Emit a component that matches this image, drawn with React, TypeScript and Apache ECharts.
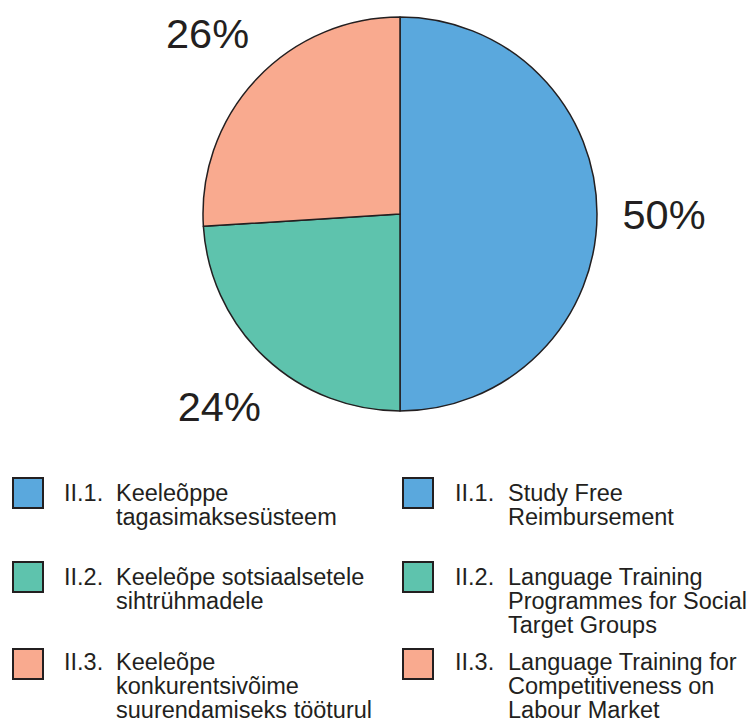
import React, { useEffect, useRef } from "react";
import * as echarts from "echarts";

const codes = ["II.1.", "II.2.", "II.3."];
const estonianLabels = [
  "Keeleõppe\ntagasimaksesüsteem",
  "Keeleõpe sotsiaalsetele\nsihtrühmadele",
  "Keeleõpe\nkonkurentsivõime\nsuurendamiseks tööturul",
];
const englishLabels = [
  "Study Free\nReimbursement",
  "Language Training\nProgrammes for Social\nTarget Groups",
  "Language Training for\nCompetitiveness on\nLabour Market",
];
const shares = [50, 24, 26];
const colors = ["#5aa8dd", "#5ec3ad", "#f9aa8f"];

const FONT = "'Liberation Sans', Arial, Helvetica, sans-serif";
const INK = "#231f20";
const H = 723;
const LH = 24;

export default function App() {
  const ref = useRef<HTMLDivElement>(null);
  useEffect(() => {
    if (!ref.current) return;
    const chart = echarts.init(ref.current, null, { renderer: "svg" });
    const rowTops = [478, 562, 649];
    const columns = [
      { boxX: 13, codeX: 64, textX: 116, labels: estonianLabels },
      { boxX: 403, codeX: 455, textX: 508, labels: englishLabels },
    ];
    const graphics: any[] = [];
    columns.forEach((col) => {
      codes.forEach((code, i) => {
        const top = rowTops[i];
        const lines = col.labels[i].split("\n").length;
        const textY = Math.min(top + 3, H - lines * LH - 1.5);
        graphics.push({
          type: "rect",
          shape: { x: col.boxX, y: top, width: 30, height: 30 },
          style: { fill: colors[i], stroke: INK, lineWidth: 2 },
          silent: true,
        });
        graphics.push({
          type: "text",
          x: col.codeX,
          y: textY,
          style: {
            text: code,
            fontSize: 23.5,
            fontFamily: FONT,
            fill: INK,
            lineHeight: LH,
            verticalAlign: "top",
          },
          silent: true,
        });
        graphics.push({
          type: "text",
          x: col.textX,
          y: textY,
          style: {
            text: col.labels[i],
            fontSize: 23.5,
            fontFamily: FONT,
            fill: INK,
            lineHeight: LH,
            verticalAlign: "top",
          },
          silent: true,
        });
      });
    });

    const data = shares.map((v, i) => ({
      name: estonianLabels[i],
      value: v,
      itemStyle: { color: colors[i] },
    }));

    chart.setOption({
      animation: false,
      textStyle: { fontFamily: FONT },
      series: [
        {
          type: "pie",
          center: [400, 214],
          radius: 197,
          startAngle: 90,
          clockwise: true,
          silent: true,
          label: { show: false },
          labelLine: { show: false },
          itemStyle: { borderColor: INK, borderWidth: 1.5 },
          emphasis: { disabled: true },
          data,
        },
        {
          type: "pie",
          center: [400, 214],
          radius: [256, 266],
          startAngle: 90,
          clockwise: true,
          silent: true,
          itemStyle: { color: "transparent", borderWidth: 0 },
          label: {
            show: true,
            position: "inside",
            formatter: "{c}%",
            fontSize: 41.5,
            fontFamily: FONT,
            color: INK,
          },
          labelLine: { show: false },
          emphasis: { disabled: true },
          data: shares.map((v, i) => ({ name: codes[i], value: v })),
        },
      ],
      graphic: graphics,
    });
    return () => chart.dispose();
  }, []);
  return (
    <div
      ref={ref}
      style={{ position: "fixed", left: 0, top: 0, width: 752, height: H, background: "#fff" }}
    />
  );
}
